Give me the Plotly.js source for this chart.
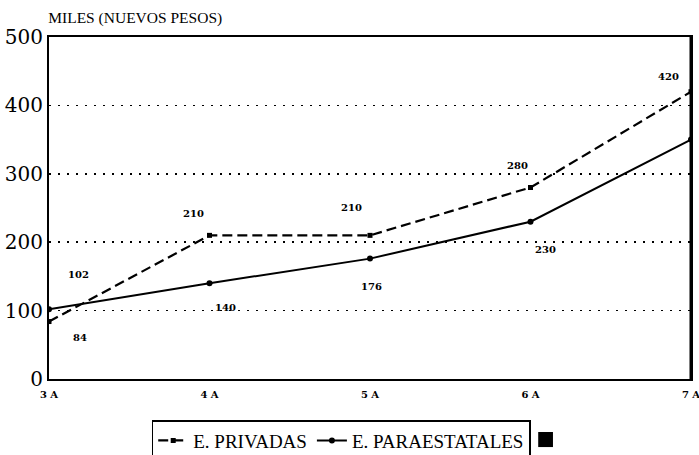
<!DOCTYPE html>
<html><head><meta charset="utf-8">
<script src="https://cdn.plot.ly/plotly-3.0.1.min.js"></script>
<style>html,body{margin:0;padding:0;background:#fff}#c{width:699px;height:455px}</style>
</head><body><div id="c"></div>
<script>
const categories = ["3 A", "4 A", "5 A", "6 A", "7 A"];
const privadas = [84, 210, 210, 280, 420];
const paraestatales = [102, 140, 176, 230, 350];
const privadasLabels = ["84", "210", "210", "280", "420"];
const paraLabels = ["102", "140", "176", "230", ""];
const yTicks = [0, 100, 200, 300, 400, 500];

// label pixel offsets (style, not data)
const privOff = [[31,-16],[-16,22],[-19,28],[-13,22],[-23,15]];
const paraOff = [[29,35],[16,-24],[1,-28],[15,-28],[0,0]];

const serif = "DejaVu Serif";
const serif2 = "Liberation Serif";
const traces = [
  {x: categories, y: privadas, name: "E. PRIVADAS", type: "scatter", mode: "lines+markers",
   line: {color: "#000", width: 2.2, dash: "10px,5px"}, marker: {symbol: "square", size: 5, color: "#000"}},
  {x: categories, y: paraestatales, name: "E. PARAESTATALES", type: "scatter", mode: "lines+markers",
   line: {color: "#000", width: 2}, marker: {symbol: "circle", size: 6, color: "#000"}}
];

const annotations = [];
categories.forEach((c, i) => {
  if (privadasLabels[i]) annotations.push({x: c, y: privadas[i], text: privadasLabels[i], showarrow: false,
    xshift: privOff[i][0], yshift: privOff[i][1], font: {family: serif, size: 10, color: "#000", weight: "bold"}});
  if (paraLabels[i]) annotations.push({x: c, y: paraestatales[i], text: paraLabels[i], showarrow: false,
    xshift: paraOff[i][0], yshift: paraOff[i][1], font: {family: serif, size: 10, color: "#000", weight: "bold"}});
});

const layout = {
  width: 699, height: 455,
  margin: {l: 49, r: 8, t: 37, b: 76, autoexpand: false},
  paper_bgcolor: "#fff", plot_bgcolor: "#fff",
  title: {text: "MILES (NUEVOS PESOS)", x: 0.069, xanchor: "left", y: 0.962, yanchor: "middle",
          font: {family: serif2, size: 15.5, color: "#000"}},
  xaxis: {type: "category", range: [0, 4], showgrid: false, zeroline: false,
          showline: true, mirror: true, linecolor: "#000", linewidth: 2, ticklabelstandoff: 5,
          ticks: "", tickfont: {family: serif, size: 10, color: "#000", weight: "bold"}},
  yaxis: {range: [0, 500], tickvals: yTicks, ticktext: yTicks.map(String), showgrid: true,
          gridcolor: "#000", gridwidth: 1.5, griddash: "2px,7px", zeroline: false,
          showline: true, mirror: true, linecolor: "#000", linewidth: 2, ticks: "",
          tickfont: {family: serif, size: 20, color: "#000"}},
  showlegend: true,
  legend: {orientation: "h", x: 0.16, xanchor: "left", y: -0.12, yanchor: "top",
           bordercolor: "#000", borderwidth: 1.5, bgcolor: "#fff",
           font: {family: serif2, size: 19, color: "#000"}, itemwidth: 30},
  annotations: annotations,
  shapes: [
    {type: "line", xref: "x", yref: "paper", x0: 4, x1: 4, y0: 0, y1: 1, line: {color: "#000", width: 3}},
    {type: "rect", xref: "paper", yref: "paper", x0: 0.762, x1: 0.785, y0: -0.155, y1: -0.199,
     fillcolor: "#000", line: {width: 0}}
  ]
};
Plotly.newPlot("c", traces, layout, {displayModeBar: false, staticPlot: true});
</script></body></html>
